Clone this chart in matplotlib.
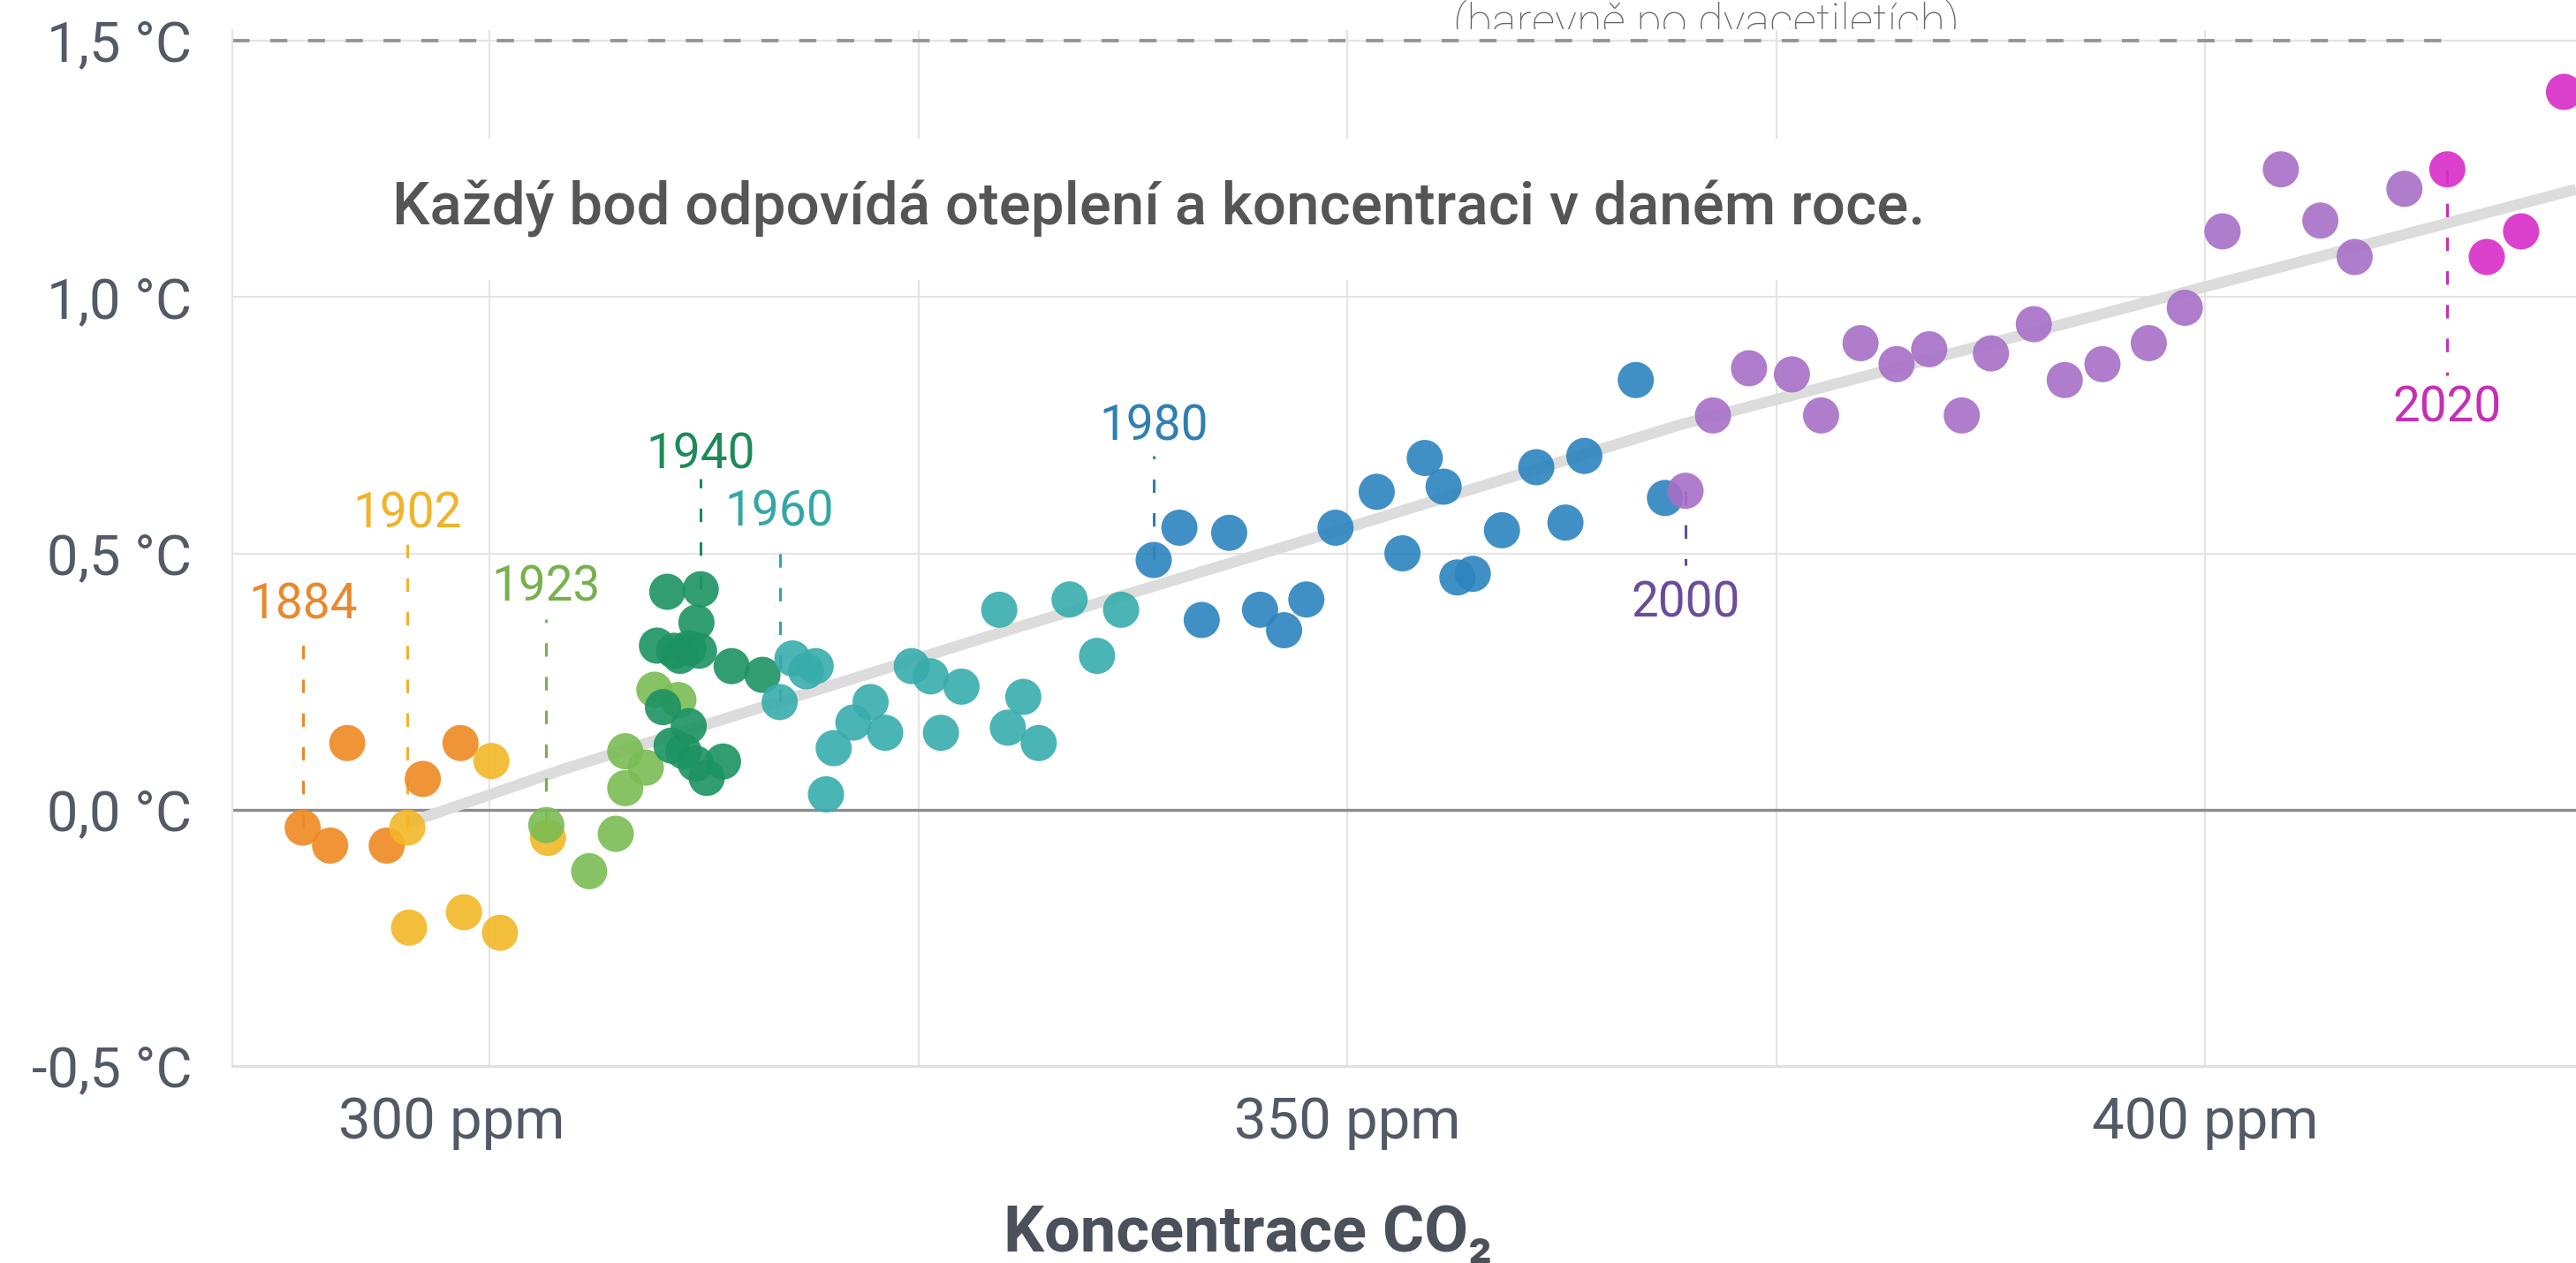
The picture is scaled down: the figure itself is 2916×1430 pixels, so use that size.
import matplotlib.pyplot as plt
from matplotlib.ticker import FixedLocator
from matplotlib.transforms import ScaledTranslation, Bbox, TransformedBbox

plt.rcParams['font.family'] = ['Roboto', 'DejaVu Sans']

# koncentrace CO2 (ppm) a oteplení (°C), po dvacetiletích
orange_ppm = [289.1, 290.7, 291.7, 294.0, 296.1, 298.3]
orange_t = [-0.035, -0.07, 0.13, -0.07, 0.06, 0.13]

yellow_ppm = [295.2, 300.1, 295.3, 298.5, 300.6, 303.4]
yellow_t = [-0.035, 0.095, -0.23, -0.20, -0.24, -0.055]

lgreen_ppm = [303.3, 307.35, 305.8, 307.9, 307.9, 309.1, 309.6, 311.0]
lgreen_t = [-0.03, -0.047, -0.12, 0.042, 0.114, 0.082, 0.234, 0.214]

dgreen_ppm = [312.3, 310.35, 312.05, 309.75, 310.75, 311.6, 312.2, 311.1, 314.1,
              315.9, 310.1, 311.6, 310.6, 311.3, 312.0, 313.6, 312.65]
dgreen_t = [0.43, 0.425, 0.365, 0.32, 0.31, 0.315, 0.31, 0.30, 0.28,
            0.263, 0.20, 0.163, 0.125, 0.114, 0.09, 0.094, 0.062]

teal_ppm = [316.9, 317.65, 318.45, 319.0, 319.6, 320.05, 321.2, 322.2, 323.05, 324.6,
            325.7, 326.3, 327.5, 329.7, 330.2, 331.1, 332.0, 333.8, 335.4, 336.8]
teal_t = [0.21, 0.295, 0.27, 0.28, 0.03, 0.12, 0.17, 0.21, 0.15, 0.28,
          0.26, 0.15, 0.24, 0.39, 0.16, 0.22, 0.13, 0.41, 0.30, 0.39]

blue_ppm = [338.7, 340.2, 341.5, 343.1, 344.9, 346.3, 347.6, 349.3, 351.7, 353.2,
            354.5, 355.6, 356.4, 357.3, 359.0, 361.0, 362.7, 363.8, 366.8, 368.5]
blue_t = [0.487, 0.55, 0.37, 0.54, 0.39, 0.35, 0.41, 0.55, 0.62, 0.50,
          0.686, 0.63, 0.453, 0.46, 0.545, 0.668, 0.56, 0.69, 0.838, 0.608]

purple_ppm = [369.7, 371.3, 373.4, 375.9, 377.6, 379.9, 382.0, 383.9, 385.8, 387.5,
              390.0, 391.8, 394.0, 396.7, 398.8, 401.0, 404.4, 406.7, 408.7, 411.6]
purple_t = [0.622, 0.769, 0.861, 0.849, 0.769, 0.91, 0.869, 0.898, 0.769, 0.89,
            0.947, 0.838, 0.869, 0.91, 0.979, 1.128, 1.249, 1.149, 1.078, 1.211]

magenta_ppm = [414.1, 416.4, 418.4, 420.9]
magenta_t = [1.249, 1.078, 1.128, 1.40]

label_years = ['1884', '1902', '1923', '1940', '1960', '1980', '2000', '2020']

trend_ppm = [295.3, 304.4, 330.2, 350.0, 369.3, 400.0, 421.6]
trend_t = [-0.025, 0.08, 0.35, 0.55, 0.75, 1.02, 1.21]

ytick_vals = [-0.5, 0.0, 0.5, 1.0, 1.5]
ytick_labels = ['-0,5 °C', '0,0 °C', '0,5 °C', '1,0 °C', '1,5 °C']
xtick_vals = [300, 350, 400]
xtick_labels = ['300 ppm', '350 ppm', '400 ppm']

groups = [
    (orange_ppm, orange_t, '#ee8a21', '#e8892c'),
    (yellow_ppm, yellow_t, '#f2b726', '#f0b32a'),
    (lgreen_ppm, lgreen_t, '#7abc53', '#78b04f'),
    (dgreen_ppm, dgreen_t, '#1c9262', '#1d8a5a'),
    (teal_ppm, teal_t, '#37acac', '#35a6a6'),
    (blue_ppm, blue_t, '#2c84bf', '#2f7fb3'),
    (purple_ppm, purple_t, '#a66fc7', '#6a4c9c'),
    (magenta_ppm, magenta_t, '#d82cc7', '#c82eb5'),
]
# umístění popisků let (účaří textu, konec čárkované čáry)
label_pos = [(0.372, 0.34), (0.55, 0.525), (0.407, 0.372), (0.666, 0.645),
             (0.553, 0.522), (0.721, 0.69), (0.376, 0.476), (0.757, 0.847)]

W, H = 2916, 1430
fig = plt.figure(figsize=(W / 100, H / 100), dpi=100)
ax = fig.add_axes([263 / W, (H - 1207) / H, 1 - 263 / W, (1207 - 34.4) / H])
ax.set_xlim(285.0, 421.6)
ax.set_ylim(-0.5, 1.52)

for s in ['top', 'right']:
    ax.spines[s].set_visible(False)
ax.spines['left'].set_color('#e4e4e4')
ax.spines['left'].set_linewidth(1.5)
ax.spines['bottom'].set_color('#e0e0e0')
ax.spines['bottom'].set_linewidth(2.2)

ax.set_xticks(xtick_vals)
ax.set_xticklabels(xtick_labels)
ax.xaxis.set_minor_locator(FixedLocator([325, 375]))
ax.set_yticks(ytick_vals)
ax.set_yticklabels(ytick_labels)
ax.tick_params(axis='both', which='both', length=0, labelcolor='#535a66')
ax.tick_params(axis='y', labelsize=45.5, pad=33)
ax.tick_params(axis='x', labelsize=47, pad=24)
ax.grid(True, which='both', color='#e4e4e4', lw=1.5)
ax.set_axisbelow(True)

# posun prvního popisku osy x doleva
lbl = ax.get_xticklabels()[0]
lbl.set_transform(lbl.get_transform() + ScaledTranslation(-0.43, 0, fig.dpi_scale_trans))

ax.axhline(0, color='#8c8c8c', lw=2.4, zorder=1.5)
ax.plot([285.0, 414.5], [1.5, 1.5], color='#959595', lw=2.8,
        ls=(0, (5, 6)), zorder=1.5)

ax.plot(trend_ppm, trend_t, color='#dcdcdc', lw=9, solid_capstyle='butt', zorder=2)

ax.text(294.3, 1.14, 'Každý bod odpovídá oteplení a koncentraci v daném roce.',
        ha='left', va='baseline', fontsize=48.4, fontweight='medium', color='#555555',
        zorder=3, bbox=dict(fc='white', ec='none', boxstyle='square,pad=0.7'))

for (px, pt, col, lcol), year, (tb, tl) in zip(groups, label_years, label_pos):
    ax.plot([px[0], px[0]], [pt[0], tl], color=lcol, lw=2.2,
            ls=(0, (5, 7.5)), zorder=2.5)
    ax.text(px[0], tb, year, ha='center', va='baseline', fontsize=39.5,
            color=lcol, zorder=3)

for px, pt, col, lcol in groups:
    ax.scatter(px, pt, s=870, c=col, alpha=0.9, edgecolors='none', zorder=4)

fig.text(1413 / W, (H - 1417) / H, 'Koncentrace CO₂', ha='center', va='baseline',
         fontsize=52, fontweight='bold', color='#4b505a')

sub = fig.text(1931 / W, (H - 41) / H, '(barevně po dvacetiletích)', ha='center',
               va='baseline', fontsize=37.5, color='#666666', fontweight='light')
sub.set_clip_box(TransformedBbox(Bbox.from_extents(0, (H - 33) / H, 1, 1), fig.transFigure))
sub.set_clip_on(True)

fig.savefig('out.png', dpi=100, facecolor='white')
